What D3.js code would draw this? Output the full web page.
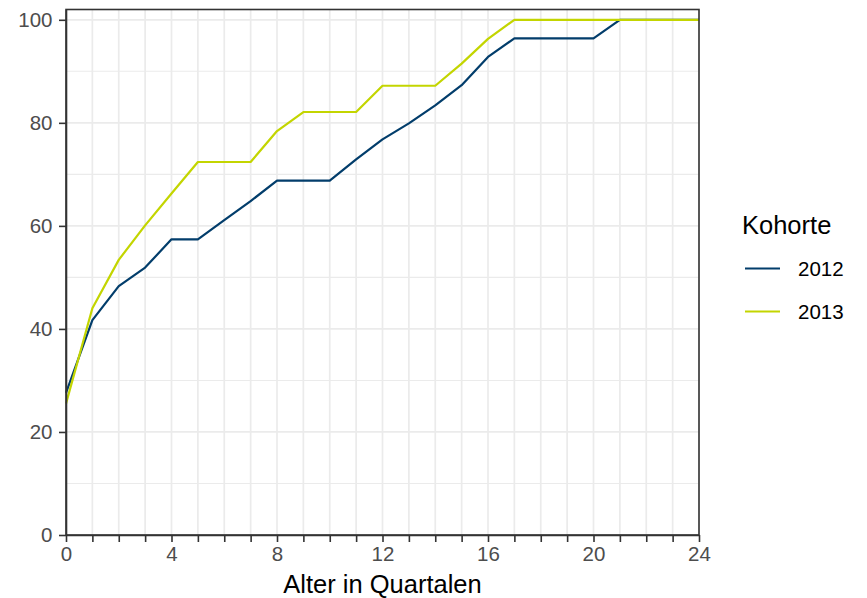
<!DOCTYPE html>
<html>
<head>
<meta charset="utf-8">
<script src="https://cdn.jsdelivr.net/npm/d3@7"></script>
<style>
  html, body { margin: 0; padding: 0; background: #ffffff; }
  svg { display: block; font-family: "Liberation Sans", Arial, sans-serif; }
</style>
</head>
<body>
<svg id="chart" width="867" height="598"></svg>
<script>
// ---- data ----
const quarters = d3.range(0, 25);
const series2012 = [27.6, 41.7, 48.3, 51.9, 57.4, 57.4, 61.1, 64.8, 68.8, 68.8, 68.8, 72.9, 76.8, 79.9, 83.4, 87.3, 92.8, 96.4, 96.4, 96.4, 96.4, 100, 100, 100, 100];
const series2013 = [25.5, 44.0, 53.4, 60.1, 66.3, 72.4, 72.4, 72.4, 78.4, 82.1, 82.1, 82.1, 87.2, 87.2, 87.2, 91.5, 96.3, 100, 100, 100, 100, 100, 100, 100, 100];
const seriesNames = ["2012", "2013"];
const seriesColors = ["#023d6b", "#c3d500"];
const xTickLabels = [0, 4, 8, 12, 16, 20, 24];
const yTickLabels = [0, 20, 40, 60, 80, 100];
const yMinor = [10, 30, 50, 70, 90];
const legendTitle = "Kohorte";
const xTitle = "Alter in Quartalen";

// ---- layout ----
const svg = d3.select("#chart");
const pLeft = 66, pRight = 699, pTop = 9.5, pBottom = 535;
const x = d3.scaleLinear().domain([0, 24]).range([pLeft, pRight]);
const y = d3.scaleLinear().domain([0, 102]).range([pBottom, pTop]);

const g = svg.append("g");

// grid
g.selectAll(".ygmin").data(yMinor).enter().append("line")
  .attr("x1", pLeft).attr("x2", pRight)
  .attr("y1", d => y(d)).attr("y2", d => y(d))
  .attr("stroke", "#ebebeb").attr("stroke-width", 1.1);
g.selectAll(".yg").data(yTickLabels).enter().append("line")
  .attr("x1", pLeft).attr("x2", pRight)
  .attr("y1", d => y(d)).attr("y2", d => y(d))
  .attr("stroke", "#ebebeb").attr("stroke-width", 1.7);
g.selectAll(".xg").data(quarters).enter().append("line")
  .attr("y1", pTop).attr("y2", pBottom)
  .attr("x1", d => x(d)).attr("x2", d => x(d))
  .attr("stroke", "#ebebeb").attr("stroke-width", 1.7);

// lines
const line = d3.line().x((d, i) => x(quarters[i])).y(d => y(d));
[series2012, series2013].forEach((s, k) => {
  g.append("path").datum(s)
    .attr("d", line)
    .attr("fill", "none")
    .attr("stroke", seriesColors[k])
    .attr("stroke-width", 2.2)
    .attr("stroke-linejoin", "round");
});

// panel border
g.append("rect")
  .attr("x", pLeft).attr("y", pTop)
  .attr("width", pRight - pLeft).attr("height", pBottom - pTop)
  .attr("fill", "none").attr("stroke", "#333333").attr("stroke-width", 1.6);

// axes
const xAxis = d3.axisBottom(x).tickValues(quarters).tickSizeInner(7).tickSizeOuter(0)
  .tickFormat(d => xTickLabels.includes(d) ? d : "");
const xa = svg.append("g").attr("transform", `translate(0,${pBottom})`).call(xAxis);
xa.select(".domain").attr("stroke", "#333333").attr("stroke-width", 1.6);
xa.selectAll(".tick line").attr("stroke", "#333333").attr("stroke-width", 1.6);
xa.selectAll(".tick text").attr("fill", "#4d4d4d").attr("font-size", "20.5px")
  .attr("font-family", "Liberation Sans, Arial, sans-serif").attr("dy", "0.71em").attr("y", 11);

const yAxis = d3.axisLeft(y).tickValues(yTickLabels).tickSizeInner(7).tickSizeOuter(0);
const ya = svg.append("g").attr("transform", `translate(${pLeft},0)`).call(yAxis);
ya.select(".domain").attr("stroke", "#333333").attr("stroke-width", 1.6);
ya.selectAll(".tick line").attr("stroke", "#333333").attr("stroke-width", 1.6);
ya.selectAll(".tick text").attr("fill", "#4d4d4d").attr("font-size", "20.5px")
  .attr("font-family", "Liberation Sans, Arial, sans-serif").attr("x", -13.5);

// axis title
svg.append("text").attr("x", (pLeft + pRight) / 2).attr("y", 593)
  .attr("text-anchor", "middle").attr("font-size", "25.5px").attr("fill", "#000")
  .text(xTitle);

// legend
svg.append("text").attr("x", 742).attr("y", 234)
  .attr("font-size", "25.5px").attr("fill", "#000").text(legendTitle);
seriesNames.forEach((n, i) => {
  const cy = 268.5 + i * 43;
  svg.append("line").attr("x1", 745).attr("x2", 780).attr("y1", cy).attr("y2", cy)
    .attr("stroke", seriesColors[i]).attr("stroke-width", 2.2);
  svg.append("text").attr("x", 798).attr("y", cy).attr("dy", "0.36em")
    .attr("font-size", "20.5px").attr("fill", "#000").text(n);
});
</script>
</body>
</html>
